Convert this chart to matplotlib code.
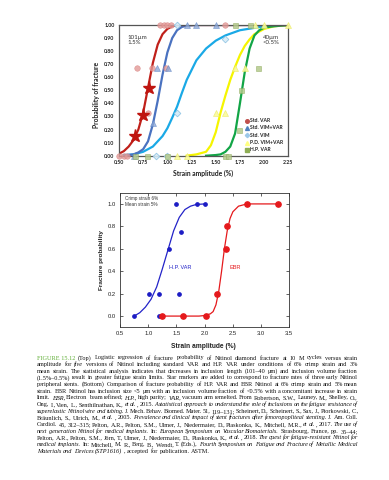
import numpy as np
import matplotlib
matplotlib.use('Agg')
import matplotlib.pyplot as plt

# --- top chart: points ---
std_var_x = [0.50, 0.55, 0.58, 0.69, 0.80, 0.84, 0.99, 0.92, 0.96, 1.00, 1.04, 1.60]
std_var_p = [0.0, 0.0, 0.0, 0.67, 0.33, 0.67, 0.67, 1.0, 1.0, 1.0, 1.0, 1.0]
vimvar_x = [0.65, 0.85, 0.89, 1.01, 1.20, 1.30, 1.50]
vimvar_p = [0.0, 0.25, 0.67, 0.67, 1.0, 1.0, 1.0]
vim_x = [0.88, 1.00, 1.10, 1.60, 1.10]
vim_p = [0.0, 0.0, 0.33, 0.89, 1.0]
pd_x = [1.10, 1.20, 1.50, 1.60, 1.70, 1.80, 1.91, 2.00, 2.25]
pd_p = [0.0, 0.0, 0.33, 0.33, 0.67, 0.67, 1.0, 1.0, 1.0]
hp_x = [0.67, 0.79, 1.00, 1.60, 1.63, 1.74, 1.76, 1.94, 1.70, 1.85]
hp_p = [0.0, 0.0, 0.0, 0.0, 0.0, 0.20, 0.50, 0.67, 1.0, 1.0]
star_x = [0.67, 0.745, 0.81]
star_p = [0.15, 0.31, 0.52]

# fitted curves
red_cx = [0.50, 0.55, 0.60, 0.65, 0.70, 0.75, 0.80, 0.85, 0.90, 0.95, 1.00, 1.05, 1.10, 2.25]
red_cp = [0.015, 0.035, 0.07, 0.12, 0.20, 0.33, 0.52, 0.71, 0.85, 0.93, 0.97, 0.99, 1.0, 1.0]
blue_cx = [0.60, 0.65, 0.70, 0.75, 0.80, 0.85, 0.90, 0.95, 1.00, 1.05, 1.10, 1.15, 1.20, 1.30, 2.25]
blue_cp = [0.005, 0.01, 0.025, 0.05, 0.11, 0.24, 0.42, 0.62, 0.79, 0.90, 0.96, 0.985, 0.995, 1.0, 1.0]
cyan_cx = [0.55, 0.65, 0.75, 0.85, 0.95, 1.00, 1.05, 1.10, 1.15, 1.20, 1.30, 1.40, 1.50, 1.60, 1.75, 2.00, 2.25]
cyan_cp = [0.005, 0.01, 0.03, 0.07, 0.15, 0.21, 0.29, 0.375, 0.48, 0.58, 0.73, 0.82, 0.88, 0.92, 0.96, 0.99, 1.0]
yel_cx = [1.20, 1.30, 1.40, 1.45, 1.50, 1.55, 1.60, 1.65, 1.70, 1.75, 1.80, 1.85, 1.90, 2.00, 2.10, 2.25]
yel_cp = [0.0, 0.01, 0.03, 0.08, 0.18, 0.33, 0.46, 0.58, 0.68, 0.77, 0.84, 0.89, 0.93, 0.97, 0.99, 1.0]
grn_cx = [1.40, 1.50, 1.55, 1.60, 1.65, 1.70, 1.75, 1.80, 1.85, 1.90, 1.95, 2.00, 2.10, 2.25]
grn_cp = [0.0, 0.005, 0.01, 0.03, 0.07, 0.17, 0.40, 0.64, 0.82, 0.92, 0.96, 0.98, 0.99, 1.0]

legend_labels = ['Std. VAR', 'Std. VIM+VAR', 'Std. VIM', 'P.D. VIM+VAR', 'H.P. VAR']

# --- bottom chart ---
hpvar_x = [0.75, 1.01, 1.19, 1.19, 1.36, 1.50, 1.55, 1.58, 1.86, 2.00]
hpvar_p = [0.0, 0.2, 0.2, 0.0, 0.6, 1.0, 0.2, 0.75, 1.0, 1.0]
ebr_x = [1.25, 1.62, 2.03, 2.22, 2.37, 2.40, 2.75, 3.30]
ebr_p = [0.0, 0.0, 0.0, 0.2, 0.6, 0.8, 1.0, 1.0]
hpvar_cx = [0.75, 0.85, 0.95, 1.05, 1.15, 1.25, 1.35, 1.45, 1.55, 1.65, 1.75, 1.85, 2.00]
hpvar_cp = [0.0, 0.03, 0.08, 0.15, 0.26, 0.42, 0.59, 0.76, 0.88, 0.95, 0.98, 0.995, 1.0]
ebr_cx = [1.25, 1.60, 1.90, 2.00, 2.10, 2.15, 2.20, 2.25, 2.30, 2.35, 2.40, 2.45, 2.50, 2.60, 2.75, 3.30]
ebr_cp = [0.0, 0.0, 0.0, 0.005, 0.02, 0.04, 0.10, 0.22, 0.40, 0.60, 0.76, 0.87, 0.93, 0.98, 1.0, 1.0]

caption_lines = [
    "FIGURE\u00a015.12 (Top) Logistic regression of fracture probability of Nitinol diamond fracture at 10 M cycles versus strain",
    "amplitude for _five_ versions of Nitinol including standard VAR and H.P. VAR under conditions of 6% crimp strain and 3%",
    "mean strain. The statistical analysis indicates that decreases in inclusion length (101–40 μm) and inclusion volume fraction",
    "(1.5%–0.5%) result in greater fatigue strain limits. Star markers are added to correspond to fracture rates of three early Nitinol",
    "peripheral stents. (Bottom) Comparison of fracture probability of H.P. VAR and EBR Nitinol at 6% crimp strain and 5% mean",
    "strain. EBR Nitinol has inclusion size <5 μm with an inclusion volume fraction of <0.5% with a concomitant increase in strain",
    "limit. _EBR,_ Electron beam refined; _H.P.,_ high purity; _VAR,_ vacuum arm remelted. From Robertson, S.W., Launey, M., Shelley, O.,",
    "Ong, I., Vien, L., Senthilnathan, K., _et al._, 2015. _A statistical approach to understand the role of inclusions on the fatigue resistance of_",
    "_superelastic Nitinol wire and tubing._ J. Mech. Behav. Biomed. Mater. 51, 119–131; Scheinert, D., Scheinert, S., Sax, J., Piorkowski, C.,",
    "Bräunlich, S., Ulrich, M., _et al._, 2005. _Prevalence and clinical impact of stent fractures after femoropopliteal stenting._ J. Am. Coll.",
    "Cardiol. 45, 312–315; Pelton, A.R., Pelton, S.M., Ulmer, J., Niedermaier, D., Plaskonka, K., Mitchell, M.R., _et al._, 2017. _The use of_",
    "_next generation Nitinol for medical implants._ In: _European Symposium on Vascular Biomaterials._ Strasbourg, France, pp. 35–44;",
    "Pelton, A.R., Pelton, S.M., Jörn, T., Ulmer, J., Niedermaier, D., Plaskonka, K., _et al._, 2018. _The quest for fatigue-resistant Nitinol for_",
    "_medical implants._ In: Mitchell, M. R., Berg, B., Wendt, T. (Eds.), _Fourth Symposium on Fatigue and Fracture of Metallic Medical_",
    "_Materials and Devices (STP1616)_, accepted for publication. ASTM.",
]

W, H = 389, 480
fig = plt.figure(figsize=(W / 100, H / 100), dpi=100)

def fx(px):
    return px / W

def fy(py):
    return 1 - py / H

# ================= top chart =================
ax1 = fig.add_axes([fx(119), fy(155.7), fx(288.3) - fx(119), fy(25) - fy(155.7)])
ax1.plot(cyan_cx, cyan_cp, color='#1aa9e6', lw=1.6, zorder=2)
ax1.plot(yel_cx, yel_cp, color='#f5f500', lw=1.6, zorder=2)
ax1.plot(grn_cx, grn_cp, color='#12a546', lw=1.6, zorder=2)
ax1.plot(blue_cx, blue_cp, color='#4a72c0', lw=1.6, zorder=2)
ax1.plot(red_cx, red_cp, color='#c0201a', lw=1.6, zorder=2)

mk = dict(ls='none', ms=4.0, clip_on=False, zorder=3)
ax1.plot(std_var_x, std_var_p, marker='o', mfc='#e39a98', mec='#d88583', mew=0.4, alpha=0.8, **mk)
ax1.plot(vimvar_x, vimvar_p, marker='^', mfc='#8ea8d6', mec='#5d83c4', mew=0.4, alpha=0.8, **mk)
ax1.plot(vim_x, vim_p, marker='D', mfc='#d6ebf7', mec='#8cc3e3', mew=0.6, alpha=0.9, **{**mk, 'ms': 3.4})
ax1.plot(pd_x, pd_p, marker='^', mfc='#fbfb9a', mec='#e8e860', mew=0.4, alpha=0.9, **mk)
ax1.plot(hp_x, hp_p, marker='s', mfc='#b4c98c', mec='#8fab5e', mew=0.4, alpha=0.85, **{**mk, 'ms': 3.6})
ax1.plot(star_x, star_p, marker='*', color='#bf1510', ls='none', ms=9.5, zorder=4)

ax1.set_xlim(0.5, 2.25)
ax1.set_ylim(0, 1.0)
ax1.set_xticks(np.arange(0.5, 2.26, 0.25))
ax1.set_xticklabels(['%.2f' % v for v in np.arange(0.5, 2.26, 0.25)])
ax1.set_yticks(np.arange(0, 1.01, 0.1))
ax1.set_yticklabels(['%.2f' % v for v in np.arange(0, 1.01, 0.1)])
ax1.tick_params(length=0, labelsize=3.8, colors='#222222', pad=3.2)
for lab in ax1.get_xticklabels() + ax1.get_yticklabels():
    lab.set_family('Lato')
    lab.set_weight('bold')
for sp in ax1.spines.values():
    sp.set_color('#555555')
    sp.set_linewidth(0.9)

ax1.text(0.585, 0.885, '101µm\n1.5%', fontsize=4.4, family='Lato', color='#333333',
         va='center', linespacing=1.1)
ax1.text(1.985, 0.885, '40µm\n<0.5%', fontsize=4.4, family='Lato', color='#333333',
         va='center', linespacing=1.1)

leg_style = [('o', '#c0504d', 2.6), ('^', '#4f81bd', 2.8), ('D', '#9cc8e8', 2.2),
             ('^', '#ffff80', 2.8), ('s', '#8fae55', 2.6)]
for i, (lab, (m, c, s)) in enumerate(zip(legend_labels, leg_style)):
    yy = 0.268 - i * 0.0559
    ax1.plot([0.757], [yy], marker=m, color=c, ms=s, mec=c, transform=ax1.transAxes, clip_on=False)
    ax1.text(0.775, yy, lab, transform=ax1.transAxes, fontsize=3.6, family='Lato',
             weight='bold', va='center', color='#222222')

fig.text(fx(203.5), fy(173.3), 'Strain amplitude (%)', fontsize=4.9, family='Lato',
         weight='bold', ha='center', va='center', color='#222222')
fig.text(fx(96.5), fy(95), 'Probability of fracture', fontsize=4.9, family='Lato',
         weight='bold', ha='center', va='center', rotation=90, color='#222222')

# ================= bottom chart =================
ax2 = fig.add_axes([fx(120), fy(327.3), fx(289.3) - fx(120), fy(192.7) - fy(327.3)])
ax2.plot(hpvar_cx, hpvar_cp, color='#2323c8', lw=0.9)
ax2.plot(ebr_cx, ebr_cp, color='#e5191c', lw=0.9)
ax2.plot(hpvar_x, hpvar_p, 'o', color='#1c1cc4', ms=2.4)
ax2.plot(ebr_x, ebr_p, 'o', color='#e5191c', ms=3.8)
ax2.set_xlim(0.5, 3.5)
ax2.set_ylim(-0.1, 1.1)
ax2.set_xticks(np.arange(0.5, 3.51, 0.5))
ax2.set_yticks(np.arange(0, 1.01, 0.2))
ax2.tick_params(direction='in', length=2, width=0.5, top=True, right=True,
                labelsize=4.2, pad=3, colors='#222222')
for lab in ax2.get_xticklabels() + ax2.get_yticklabels():
    lab.set_family('Liberation Sans')
for sp in ax2.spines.values():
    sp.set_color('#333333')
    sp.set_linewidth(0.6)

ax2.text(0.03, 0.975, 'Crimp strain 6%\nMean strain 5%', transform=ax2.transAxes,
         fontsize=3.3, family='Liberation Sans', va='top', color='#333333', linespacing=1.3)
ax2.text(1.57, 0.432, 'H.P. VAR', fontsize=4.0, family='Liberation Sans', color='#2323c8',
         ha='center', va='center')
ax2.text(2.545, 0.432, 'EBR', fontsize=4.0, family='Liberation Sans', color='#e5191c',
         ha='center', va='center')

fig.text(fx(203.3), fy(346), 'Strain amplitude (%)', fontsize=4.8, family='Liberation Sans',
         weight='bold', ha='center', va='center', color='#222222')
fig.text(fx(101.7), fy(260), 'Fracture probability', fontsize=4.6, family='Liberation Sans',
         weight='bold', ha='center', va='center', rotation=90, color='#222222')

# ================= caption (justified, word by word) =================
renderer = fig.canvas.get_renderer()
cap_left, cap_right = 37, 358
cap_y0, cap_dy = 359.5, 6.66
size0 = 4.0

rows = []
for i, line in enumerate(caption_lines):
    words = []
    for k, seg in enumerate(line.split('_')):
        for w in seg.split(' '):
            if w:
                words.append((w, k % 2 == 1))
    texts = []
    for w, ital in words:
        green = w.startswith('FIGURE')
        t = fig.text(0, fy(cap_y0 + i * cap_dy), w.replace('\u00a0', ' '),
                     fontsize=size0, family='Liberation Serif',
                     style='italic' if ital else 'normal',
                     color='#5fae35' if green else '#111111', va='baseline')
        texts.append(t)
    rows.append(texts)

# pick a font size so that lines fill the column with ordinary word spaces
space0 = 0.25 * size0 * 100 / 72
ratios = []
for texts in rows[:-1]:
    natural = sum(t.get_window_extent(renderer).width for t in texts) + space0 * (len(texts) - 1)
    ratios.append((cap_right - cap_left) / natural)
size = size0 * np.median(ratios) * 1.01

for i, texts in enumerate(rows):
    for t in texts:
        t.set_fontsize(size)
    widths = [t.get_window_extent(renderer).width for t in texts]
    if i < len(rows) - 1 and len(texts) > 1:
        gap = max((cap_right - cap_left - sum(widths)) / (len(texts) - 1), 0.6)
    else:
        gap = 0.25 * size * 100 / 72
    x = cap_left
    for t, wd in zip(texts, widths):
        t.set_x(fx(x))
        x += wd + gap

fig.savefig('out.png', dpi=100, facecolor='white')
